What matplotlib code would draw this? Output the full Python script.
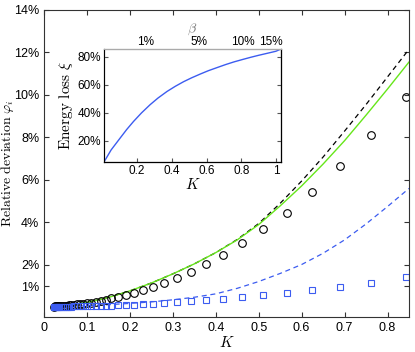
import matplotlib
matplotlib.use("Agg")
import matplotlib.pyplot as plt

plt.rcParams["font.family"] = ["Liberation Sans", "DejaVu Sans"]
plt.rcParams["mathtext.fontset"] = "cm"

# sample points (K) shared by circles and squares
k_pts = [0.844, 0.762, 0.690, 0.625, 0.565, 0.511, 0.462, 0.418, 0.378, 0.343,
         0.310, 0.280, 0.255, 0.231, 0.209, 0.190, 0.172, 0.157, 0.144, 0.132,
         0.120, 0.110, 0.101, 0.092, 0.084, 0.077, 0.070, 0.064, 0.058, 0.053,
         0.048, 0.044, 0.040, 0.036, 0.033, 0.030, 0.027, 0.025, 0.023]
# relative deviation in %
circles = [9.91, 8.10, 6.66, 5.44, 4.46, 3.68, 3.01, 2.49, 2.04, 1.68,
           1.40, 1.15, 0.96, 0.80, 0.67, 0.57, 0.49, 0.43, 0.37, 0.32,
           0.27, 0.23, 0.20, 0.18, 0.16, 0.14, 0.12, 0.11, 0.10, 0.09,
           0.08, 0.07, 0.065, 0.06, 0.055, 0.05, 0.05, 0.045, 0.04]
squares = [1.42, 1.17, 0.98, 0.81, 0.68, 0.57, 0.48, 0.39, 0.33, 0.29,
           0.245, 0.20, 0.17, 0.15, 0.13, 0.115, 0.10, 0.09, 0.08, 0.075,
           0.07, 0.065, 0.06, 0.055, 0.05, 0.05, 0.045, 0.04, 0.04, 0.035,
           0.035, 0.03, 0.03, 0.03, 0.03, 0.025, 0.025, 0.025, 0.02]

# model curves
k_line = [0.022, 0.05, 0.1, 0.15, 0.2, 0.25, 0.3, 0.35, 0.4, 0.45,
          0.5, 0.55, 0.6, 0.65, 0.7, 0.75, 0.8, 0.85]
green_line = [0.05, 0.10, 0.24, 0.47, 0.78, 1.15, 1.58, 2.05, 2.58, 3.18,
              3.90, 4.78, 5.72, 6.75, 7.85, 9.05, 10.28, 11.55]
black_dash = [0.05, 0.10, 0.24, 0.47, 0.78, 1.15, 1.58, 2.05, 2.58, 3.20,
              3.95, 4.90, 5.95, 7.08, 8.30, 9.55, 10.85, 12.15]
blue_dash = [0.03, 0.05, 0.08, 0.13, 0.19, 0.26, 0.36, 0.48, 0.64, 0.90,
             1.22, 1.60, 2.02, 2.55, 3.18, 3.93, 4.75, 5.60]

# inset: energy loss vs K
k_inset = [0.009, 0.05, 0.101, 0.14, 0.179, 0.225, 0.275, 0.32, 0.372, 0.42,
           0.468, 0.515, 0.565, 0.61, 0.662, 0.71, 0.758, 0.81, 0.855, 0.9,
           0.952, 1.0, 1.029]
xi_inset = [5.0, 13.6, 21.9, 28.2, 33.9, 40.0, 45.9, 50.6, 55.3, 59.0,
            62.3, 65.1, 67.8, 70.1, 72.4, 74.5, 76.4, 78.2, 79.7, 81.1,
            82.6, 84.0, 85.6]
beta_k = [0.246, 0.555, 0.807, 0.968]
beta_labels = ["1%", "5%", "10%", "15%"]

blue = "#3c5cf0"
green = "#66e61a"

fig = plt.figure(figsize=(4.15, 3.52), dpi=100)
ax = fig.add_axes([0.106, 0.0994, 0.8795, 0.8722])

ax.plot(k_line, black_dash, "k--", lw=0.9, dashes=(4, 3))
ax.plot(k_line, green_line, "-", color=green, lw=1.0)
ax.plot(k_line, blue_dash, "--", color=blue, lw=0.9, dashes=(4, 3))
ax.plot(k_pts, circles, "o", mfc="none", mec="black", ms=5.5, mew=0.8)
ax.plot(k_pts, squares, "s", mfc="none", mec=blue, ms=4.5, mew=0.8)

ax.set_xlim(0, 0.85)
ax.set_ylim(-0.45, 14)
ax.set_xticks([0, 0.1, 0.2, 0.3, 0.4, 0.5, 0.6, 0.7, 0.8])
ax.set_xticklabels(["0", "0.1", "0.2", "0.3", "0.4", "0.5", "0.6", "0.7", "0.8"])
yt = [1, 2, 4, 6, 8, 10, 12, 14]
ax.set_yticks(yt)
ax.set_yticklabels([f"{v}%" for v in yt])
ax.tick_params(direction="in", top=True, right=True, length=3.5, labelsize=9,
               colors="#333333", labelcolor="black")
for s in ax.spines.values():
    s.set_color("#333333")
    s.set_linewidth(0.8)
ax.set_xlabel("$K$", fontsize=11, labelpad=1)
ax.set_ylabel(r"$\mathrm{Relative\ deviation}\ \varphi_i$", fontsize=10)
ax.yaxis.set_label_coords(-0.077, 0.5)

# inset
ins = fig.add_axes([0.2506, 0.5398, 0.4265, 0.321])
ins.plot(k_inset, xi_inset, "-", color=blue, lw=1.0)
ins.set_xlim(k_inset[0], k_inset[-1])
ins.set_ylim(xi_inset[0], xi_inset[-1])
ins.set_xticks([0.2, 0.4, 0.6, 0.8, 1.0])
ins.set_xticklabels(["0.2", "0.4", "0.6", "0.8", "1"])
ins.set_yticks([20, 40, 60, 80])
ins.set_yticklabels(["20%", "40%", "60%", "80%"])
ins.tick_params(direction="in", right=True, length=3, labelsize=8.5,
                colors="#555555", labelcolor="black", pad=2)
ins.spines["top"].set_color("#aaaaaa")
ins.spines["left"].set_color("#aaaaaa")
ins.spines["bottom"].set_color("#555555")
ins.spines["right"].set_color("#555555")
for s in ins.spines.values():
    s.set_linewidth(0.9)
ins.set_xlabel("$K$", fontsize=11, labelpad=0)
ins.set_ylabel(r"$\mathrm{Energy\ loss}\ \xi$", fontsize=11, labelpad=2)

top = ins.twiny()
top.set_xlim(ins.get_xlim())
top.set_xticks(beta_k)
top.set_xticklabels(beta_labels)
top.tick_params(length=0, labelsize=8.5, pad=1)
top.spines["top"].set_color("#aaaaaa")
top.set_xlabel(r"$\beta$", fontsize=10, color="#777777", labelpad=3)

fig.savefig("out.png", dpi=100)
